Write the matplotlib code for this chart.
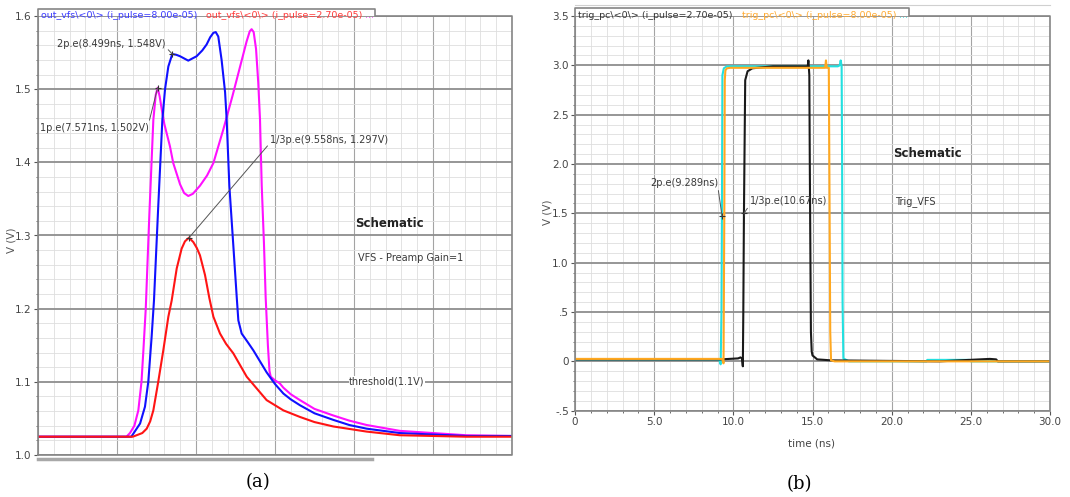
# plot.py
# Two transient-simulation panels: (a) out_vfs, (b) trig_pc
import matplotlib
matplotlib.use("Agg")
import matplotlib.pyplot as plt
from matplotlib.ticker import MultipleLocator, FixedLocator, FixedFormatter
from matplotlib.lines import Line2D

# ── DATA: panel (a) out_vfs (V vs ns) ─────────────────────
t_a_mag = [0, 5.6, 5.82, 6.1, 6.35, 6.55, 6.67, 6.82, 7.05, 7.3, 7.45, 7.571,
           7.7, 7.85, 8.0, 8.35, 8.56, 8.99, 9.25, 9.51, 9.8, 10.25, 10.7, 11.1,
           11.73, 12.3, 12.78, 13.2, 13.4, 13.52, 13.65, 13.8, 13.94, 14.05,
           14.16, 14.3, 14.41, 14.55, 14.65, 14.73, 15.0, 15.3, 15.53, 16.0,
           16.58, 17.5, 18.69, 19.7, 20.8, 22.9, 25.0, 27.1, 30.0]
v_a_mag = [1.025, 1.025, 1.030, 1.040, 1.061, 1.100, 1.143, 1.200, 1.330, 1.458,
           1.492, 1.502, 1.490, 1.470, 1.452, 1.422, 1.399, 1.370, 1.358, 1.354,
           1.357, 1.368, 1.382, 1.399, 1.445, 1.490, 1.530, 1.565, 1.579, 1.582,
           1.578, 1.555, 1.509, 1.459, 1.368, 1.290, 1.215, 1.150, 1.115, 1.107,
           1.102, 1.098, 1.092, 1.083, 1.075, 1.063, 1.054, 1.047, 1.041, 1.033,
           1.030, 1.027, 1.026]

t_a_blue = [0, 5.9, 6.03, 6.46, 6.77, 6.98, 7.19, 7.34, 7.6, 7.87, 8.04, 8.25,
            8.499, 8.75, 8.99, 9.51, 10.04, 10.4, 10.67, 10.9, 11.1, 11.25,
            11.41, 11.62, 11.84, 11.94, 12.11, 12.36, 12.58, 12.68, 12.89, 13.25,
            13.63, 14.05, 14.47, 15.0, 15.53, 16.0, 16.58, 17.5, 18.69, 19.7,
            20.8, 22.9, 25.0, 27.1, 30.0]
v_a_blue = [1.025, 1.025, 1.029, 1.043, 1.066, 1.100, 1.161, 1.211, 1.335, 1.458,
            1.500, 1.531, 1.548, 1.547, 1.545, 1.539, 1.545, 1.553, 1.561, 1.571,
            1.577, 1.578, 1.572, 1.540, 1.496, 1.459, 1.368, 1.287, 1.215, 1.184,
            1.166, 1.155, 1.143, 1.128, 1.113, 1.097, 1.084, 1.076, 1.068, 1.057,
            1.048, 1.041, 1.036, 1.030, 1.028, 1.026, 1.026]

t_a_red = [0, 6.0, 6.24, 6.6, 6.88, 7.1, 7.3, 7.61, 7.93, 8.25, 8.46, 8.78, 9.09,
           9.3, 9.558, 9.83, 10.05, 10.25, 10.57, 10.84, 11.1, 11.52, 11.9, 12.36,
           13.21, 14.47, 15.53, 16.58, 17.5, 18.69, 20.8, 22.9, 25.0, 27.1, 30.0]
v_a_red = [1.025, 1.025, 1.027, 1.030, 1.036, 1.046, 1.061, 1.100, 1.143, 1.189,
           1.211, 1.255, 1.282, 1.292, 1.297, 1.291, 1.283, 1.273, 1.246, 1.215,
           1.189, 1.166, 1.152, 1.139, 1.107, 1.075, 1.061, 1.052, 1.045, 1.039,
           1.032, 1.027, 1.026, 1.025, 1.025]

mark_t_a = [7.571, 8.499, 9.558]
mark_v_a = [1.502, 1.548, 1.297]
yticks_a = [1.0, 1.1, 1.2, 1.3, 1.4, 1.5, 1.6]
ylabels_a = ["1.0", "1.1", "1.2", "1.3", "1.4", "1.5", "1.6"]
threshold_v = 1.1

# ── DATA: panel (b) trig_pc (V vs ns) ─────────────────────
t_b_cyan = [0, 9.1, 9.2, 9.25, 9.28, 9.31, 9.4, 9.6, 12.0, 16.6, 16.72, 16.78,
            16.84, 16.87, 16.9, 16.95, 17.3, 22.2, 22.25, 24.9, 25.0, 30.0]
v_b_cyan = [0.02, 0.02, -0.03, 0.5, 1.5, 2.9, 2.97, 2.99, 2.99, 2.99, 3.0, 3.05,
            2.99, 2.0, 0.6, 0.03, 0.0, 0.0, 0.015, 0.015, 0.0, 0.0]

t_b_black = [0, 9.2, 10.3, 10.45, 10.55, 10.6, 10.63, 10.67, 10.75, 10.9, 11.2,
             12.5, 13.8, 14.7, 14.74, 14.8, 14.83, 14.87, 14.9, 14.95, 15.0, 15.3,
             16.2, 23.0, 26.2, 26.6, 26.7, 30.0]
v_b_black = [0.02, 0.02, 0.03, 0.04, 0.03, -0.05, 0.5, 1.5, 2.85, 2.94, 2.97,
             2.99, 2.99, 2.99, 3.05, 2.9, 2.0, 1.0, 0.3, 0.1, 0.06, 0.02, 0.01,
             0.0, 0.025, 0.02, 0.0, 0.0]

t_b_orange = [0, 9.3, 9.38, 9.43, 9.46, 9.5, 9.6, 9.8, 12.0, 15.8, 15.85, 15.9,
              16.03, 16.08, 16.12, 16.17, 16.4, 30.0]
v_b_orange = [0.025, 0.025, -0.02, 1.5, 2.85, 2.95, 2.97, 2.975, 2.975, 2.975,
              3.05, 2.975, 2.975, 1.5, 0.3, 0.01, 0.0, 0.0]

mark_t_b = [9.289, 10.67]
mark_v_b = [1.47, 1.5]
yticks_b = [-0.5, 0, 0.5, 1.0, 1.5, 2.0, 2.5, 3.0, 3.5]
ylabels_b = ["-.5", "0", ".5", "1.0", "1.5", "2.0", "2.5", "3.0", "3.5"]
xticks_b = [0, 5, 10, 15, 20, 25, 30]
xlabels_b = ["0", "5.0", "10.0", "15.0", "20.0", "25.0", "30.0"]

# ── FIGURE / helpers (pixel -> figure fraction) ───────────
W, H = 1070, 497
fig = plt.figure(figsize=(W / 100, H / 100), dpi=100)


def fx(px):
    return px / W


def fy(py):
    return 1 - py / H


FRAME = "#858585"
TXT = "#3a3a3a"


def style_axes(ax, ymajor, yminor):
    for s in ax.spines.values():
        s.set_visible(False)
    ax.xaxis.set_major_locator(MultipleLocator(5))
    ax.xaxis.set_minor_locator(MultipleLocator(1))
    ax.yaxis.set_minor_locator(MultipleLocator(yminor))
    ax.grid(which="major", axis="y", color="#8e8e8e", lw=1.3)
    ax.grid(which="major", axis="x", color="#a4a4a4", lw=0.8)
    ax.grid(which="minor", color="#dedede", lw=0.6)
    ax.set_axisbelow(True)
    ax.tick_params(which="both", direction="out", color="#555555",
                   labelcolor="#444444", labelsize=7.5, pad=1.5)
    ax.tick_params(which="major", length=3)
    ax.tick_params(which="minor", length=1.5)


def frame(xs, ys, color=FRAME, lw=1.2):
    fig.add_artist(Line2D([fx(x) for x in xs], [fy(y) for y in ys],
                          color=color, lw=lw, transform=fig.transFigure))


# ── PANEL (a) ─────────────────────────────────────────────
ax_a = fig.add_axes([fx(38), fy(455), fx(512) - fx(38), fy(16) - fy(455)])
style_axes(ax_a, 0.1, 0.02)
ax_a.set_xlim(0, 30)
ax_a.set_ylim(1.0, 1.6)
ax_a.yaxis.set_major_locator(FixedLocator(yticks_a))
ax_a.yaxis.set_major_formatter(FixedFormatter(ylabels_a))
ax_a.tick_params(axis="x", which="both", length=0, labelbottom=False)

ax_a.plot(t_a_mag, v_a_mag, color="#ff10ff", lw=1.5)
ax_a.plot(t_a_blue, v_a_blue, color="#1010ff", lw=1.5)
ax_a.plot(t_a_red, v_a_red, color="#ff1414", lw=1.5)
ax_a.plot(mark_t_a, mark_v_a, ls="none", marker="+", ms=4, mew=0.8, color="#333333")

lead = dict(arrowstyle="-", color="#555555", lw=0.7, shrinkA=0, shrinkB=0)
ax_a.annotate("2p.e(8.499ns, 1.548V)", xy=(mark_t_a[1], mark_v_a[1]),
              xytext=(1.2, 1.562), fontsize=7, color=TXT, va="center",
              arrowprops=dict(lead, relpos=(1, 0.2)))
ax_a.annotate("1p.e(7.571ns, 1.502V)", xy=(mark_t_a[0], mark_v_a[0]),
              xytext=(0.12, 1.447), fontsize=7, color=TXT, va="center",
              arrowprops=dict(lead, relpos=(1, 1)))
ax_a.annotate("1/3p.e(9.558ns, 1.297V)", xy=(mark_t_a[2], mark_v_a[2]),
              xytext=(14.7, 1.431), fontsize=7, color=TXT, va="center",
              arrowprops=dict(lead, relpos=(0, 0.2)))
ax_a.text(20.06, 1.317, "Schematic", fontsize=8.5, fontweight="bold",
          color="#222222", va="center")
ax_a.text(20.25, 1.269, "VFS - Preamp Gain=1", fontsize=7, color=TXT, va="center")
ax_a.text(19.7, threshold_v, "threshold(1.1V)", fontsize=7, color=TXT,
          va="center", bbox=dict(fc="white", ec="none", pad=0.5))

# frame with legend tab
frame([38, 38, 375, 375, 512, 512, 38], [455, 9.3, 9.3, 16, 16, 455, 455])
frame([38, 372], [458.5, 458.5], color="#a8a8a8", lw=2.5)
fig.text(fx(41), fy(16), "out_vfs\\<0\\> (i_pulse=8.00e-05)", fontsize=6.8,
         color="#3a3aff", va="center")
fig.text(fx(206), fy(16), "out_vfs\\<0\\> (i_pulse=2.70e-05)", fontsize=6.8,
         color="#ff3a3a", va="center")
fig.text(fx(365), fy(16), "...", fontsize=6.8, color="#ff40ff", va="center")
fig.text(fx(12), fy(240), "V (V)", rotation=90, fontsize=7.5, color="#555555",
         ha="center", va="center")

# ── PANEL (b) ─────────────────────────────────────────────
ax_b = fig.add_axes([fx(575), fy(410.7), fx(1050) - fx(575), fy(16) - fy(410.7)])
style_axes(ax_b, 0.5, 0.1)
ax_b.set_xlim(0, 30)
ax_b.set_ylim(-0.5, 3.5)
ax_b.yaxis.set_major_locator(FixedLocator(yticks_b))
ax_b.yaxis.set_major_formatter(FixedFormatter(ylabels_b))
ax_b.xaxis.set_major_locator(FixedLocator(xticks_b))
ax_b.xaxis.set_major_formatter(FixedFormatter(xlabels_b))

ax_b.plot(t_b_cyan, v_b_cyan, color="#22e0e0", lw=1.5)
ax_b.plot(t_b_black, v_b_black, color="#1a1a1a", lw=1.5)
ax_b.plot(t_b_orange, v_b_orange, color="#ffa820", lw=1.5)
ax_b.plot(mark_t_b, mark_v_b, ls="none", marker="+", ms=4, mew=0.8, color="#333333")

ax_b.annotate("2p.e(9.289ns)", xy=(mark_t_b[0], mark_v_b[0]),
              xytext=(9.03, 1.81), fontsize=7, color=TXT, va="center", ha="right",
              arrowprops=dict(lead, relpos=(1, 0)))
ax_b.annotate("1/3p.e(10.67ns)", xy=(mark_t_b[1], mark_v_b[1]),
              xytext=(11.05, 1.63), fontsize=7, color=TXT, va="center",
              arrowprops=dict(lead, relpos=(0, 0.1)))
ax_b.text(20.09, 2.106, "Schematic", fontsize=8.5, fontweight="bold",
          color="#222222", va="center")
ax_b.text(20.2, 1.62, "Trig_VFS", fontsize=7, color=TXT, va="center")

frame([575, 575, 909, 909, 1050, 1050, 575], [410.7, 7.5, 7.5, 15.5, 15.5, 410.7, 410.7])
frame([575, 1050], [5, 5], color="#d0d0d0", lw=0.8)
fig.text(fx(578), fy(15), "trig_pc\\<0\\> (i_pulse=2.70e-05)", fontsize=6.8,
         color="#333333", va="center")
fig.text(fx(742), fy(15), "trig_pc\\<0\\> (i_pulse=8.00e-05)", fontsize=6.8,
         color="#ffaa30", va="center")
fig.text(fx(899), fy(15), "...", fontsize=6.8, color="#40e0e0", va="center")
fig.text(fx(548), fy(212), "V (V)", rotation=90, fontsize=7.5, color="#555555",
         ha="center", va="center")
fig.text(fx(811), fy(444), "time (ns)", fontsize=7.5, color="#444444",
         ha="center", va="center")

# ── captions ──────────────────────────────────────────────
fig.text(fx(258), fy(482), "(a)", fontsize=13, family="DejaVu Serif",
         ha="center", va="center")
fig.text(fx(799), fy(484), "(b)", fontsize=13, family="DejaVu Serif",
         ha="center", va="center")

fig.savefig("out.png", dpi=100)
print("Saved: out.png")
